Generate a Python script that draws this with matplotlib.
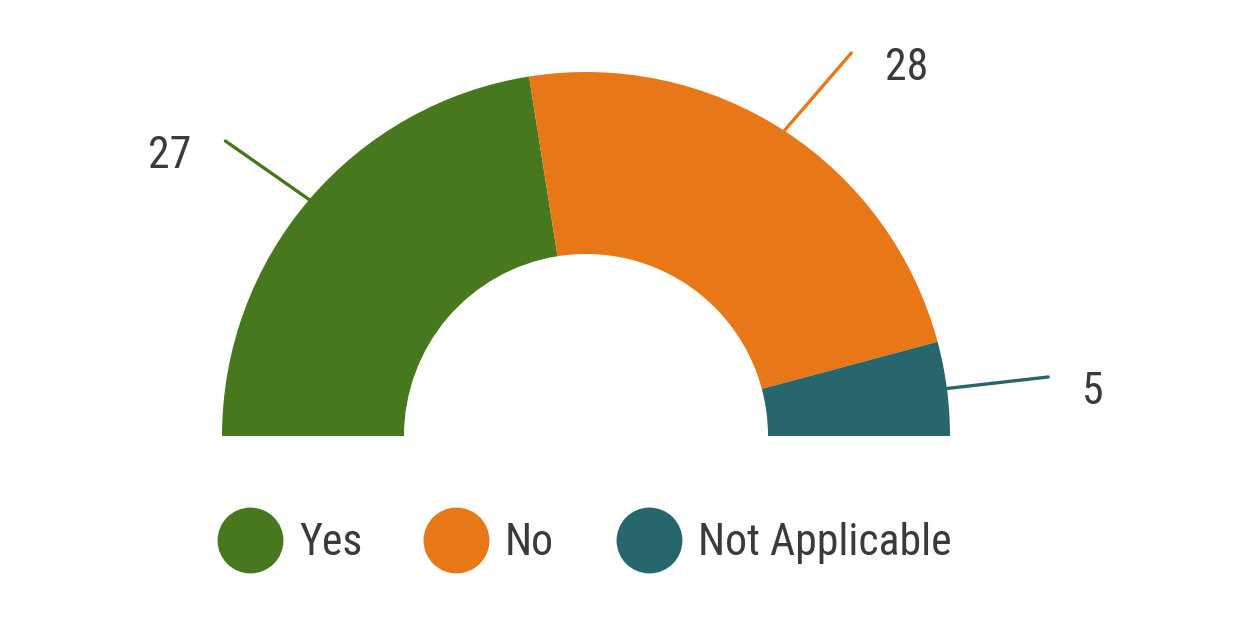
import numpy as np
import matplotlib.pyplot as plt

labels = ["Yes", "No", "Not Applicable"]
values = [27, 28, 5]
colors = ["#48781e", "#e87817", "#27666d"]

TEXT = "#3a3a3a"
W, H = 1257, 617

plt.rcParams["font.family"] = ["Roboto Condensed", "Liberation Sans Narrow", "Roboto"]

fig = plt.figure(figsize=(W / 100, H / 100), dpi=100)
ax = fig.add_axes([0, 0, 1, 1])

cx, cy = 586, H - 436
R = 364

# half donut: add an invisible wedge the size of the total
wedges, _ = ax.pie(values + [sum(values)], colors=colors + ["none"],
                   startangle=180, counterclock=False,
                   center=(cx, cy), radius=R,
                   wedgeprops=dict(width=R / 2, linewidth=0))
wedges[-1].set_visible(False)

for w, v, c in zip(wedges[:3], values, colors):
    mid = np.deg2rad((w.theta1 + w.theta2) / 2)
    side = np.sign(np.cos(mid))
    elev = np.arctan2(np.sin(mid), abs(np.cos(mid)))
    x0, y0 = cx + R * side * np.cos(elev), cy + R * np.sin(elev)
    e2 = elev * 0.97
    x1, y1 = cx + 1.28 * R * side * np.cos(e2), cy + 1.28 * R * np.sin(e2)
    ax.plot([x0, x1], [y0, y1], color=c, lw=2.4, solid_capstyle="round")
    ax.text(x1 + side * 34, y1 - 15, str(v),
            ha="left" if side > 0 else "right", va="center",
            fontsize=31.5, color=TEXT)

# legend
lx = [250, 456, 649]
ly = H - 540
for x, lab, c in zip(lx, labels, colors):
    ax.scatter([x], [ly], s=2250, color=c, linewidths=0)
    ax.text(x + 49, ly - 3, lab, ha="left", va="center", fontsize=31.5, color=TEXT)

ax.set_xlim(0, W)
ax.set_ylim(0, H)
ax.set_aspect("auto")
ax.axis("off")

fig.savefig("out.png", dpi=100, facecolor="white")
